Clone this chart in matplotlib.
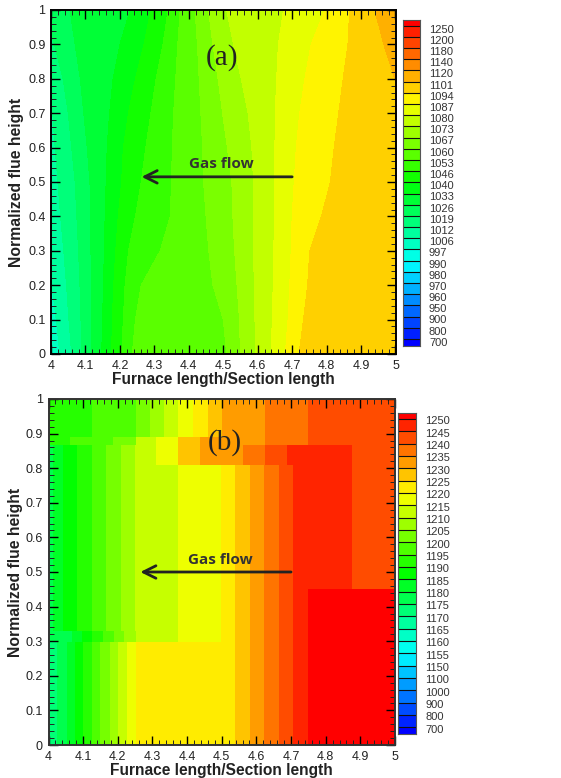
import numpy as np
from matplotlib import pyplot as plt
from matplotlib.colors import ListedColormap, BoundaryNorm, LinearSegmentedColormap
from matplotlib.ticker import MultipleLocator
from matplotlib.transforms import blended_transform_factory

plt.rcParams['font.family'] = ['Liberation Sans', 'DejaVu Sans']

W, H = 561, 778

# legend levels of the two panels
levels_a = [700, 800, 900, 950, 960, 970, 980, 990, 997, 1006, 1012, 1019, 1026, 1033, 1040,
            1046, 1053, 1060, 1067, 1073, 1080, 1087, 1094, 1101, 1120, 1140, 1180, 1200, 1250]
levels_b = [700, 800, 900, 1000, 1100, 1150, 1155, 1160, 1165, 1170, 1175, 1180, 1185, 1190,
            1195, 1200, 1205, 1210, 1215, 1220, 1225, 1230, 1235, 1240, 1245, 1250]

# panel a: x position of each isotherm at each height
heights_a = [0, 0.1, 0.2, 0.3, 0.4, 0.5, 0.6, 0.7, 0.8, 0.9, 1]
iso_temps_a = [997, 1006, 1012, 1019, 1026, 1033, 1040, 1046, 1053, 1060, 1067, 1073, 1080, 1087, 1094, 1101, 1120]
iso_997 = [3.90, 3.88, 3.86, 3.84, 3.82, 3.80, 3.78, 3.76, 3.74, 3.72, 3.70]
iso_1006 = [4.026, 4.015, 4.003, 3.98, 3.96, 3.94, 3.92, 3.90, 3.88, 3.86, 3.84]
iso_1012 = [4.06, 4.052, 4.045, 4.037, 4.028, 4.02, 4.012, 4.005, 3.998, 3.96, 3.94]
iso_1019 = [4.09, 4.087, 4.084, 4.08, 4.075, 4.07, 4.06, 4.05, 4.035, 4.01, 3.98]
iso_1026 = [4.118, 4.118, 4.117, 4.116, 4.115, 4.113, 4.105, 4.095, 4.085, 4.07, 4.055]
iso_1033 = [4.147, 4.15, 4.152, 4.155, 4.157, 4.16, 4.163, 4.17, 4.18, 4.20, 4.23]
iso_1040 = [4.176, 4.178, 4.182, 4.188, 4.195, 4.205, 4.21, 4.225, 4.245, 4.27, 4.29]
iso_1046 = [4.205, 4.21, 4.215, 4.225, 4.245, 4.262, 4.275, 4.29, 4.305, 4.325, 4.34]
iso_1053 = [4.236, 4.245, 4.262, 4.317, 4.346, 4.35, 4.352, 4.356, 4.362, 4.368, 4.375]
iso_1060 = [4.51, 4.50, 4.47, 4.458, 4.45, 4.443, 4.44, 4.435, 4.43, 4.425, 4.418]
iso_1067 = [4.55, 4.547, 4.54, 4.533, 4.528, 4.525, 4.512, 4.498, 4.485, 4.47, 4.457]
iso_1073 = [4.595, 4.592, 4.59, 4.588, 4.588, 4.588, 4.583, 4.572, 4.552, 4.53, 4.51]
iso_1080 = [4.64, 4.642, 4.645, 4.647, 4.648, 4.649, 4.65, 4.651, 4.655, 4.66, 4.675]
iso_1087 = [4.68, 4.688, 4.693, 4.697, 4.70, 4.706, 4.712, 4.722, 4.737, 4.755, 4.795]
iso_1094 = [4.72, 4.733, 4.745, 4.751, 4.785, 4.811, 4.822, 4.835, 4.848, 4.862, 4.867]
iso_1101 = [5.20, 5.18, 5.16, 5.14, 5.12, 5.10, 5.07, 5.03, 4.998, 4.966, 4.94]
iso_1120 = [5.50, 5.50, 5.50, 5.50, 5.50, 5.50, 5.50, 5.50, 5.50, 5.50, 5.50]

# panel b: blocks, one row at a time. top of row, cell edges, temperature of the cell
row0_y = [0, 0.298]
row0_x = [4, 4.024, 4.052, 4.077, 4.10, 4.125, 4.149, 4.178, 4.20, 4.226, 4.252, 4.539, 4.582, 4.623, 4.665, 4.707, 4.748, 5]
row0_t = [1172, 1177, 1182, 1187, 1192, 1197, 1202, 1207, 1212, 1217, 1222, 1227, 1232, 1237, 1242, 1247, 1255]
row1_y = [0.298, 0.33]
row1_x = [4, 4.067, 4.096, 4.125, 4.158, 4.19, 4.219, 4.252, 4.373, 4.498, 4.539, 4.582, 4.623, 4.665, 4.707, 4.748, 5]
row1_t = [1177, 1182, 1187, 1192, 1197, 1202, 1207, 1212, 1217, 1222, 1227, 1232, 1237, 1242, 1247, 1255]
row2_y = [0.33, 0.45]
row2_x = [4, 4.013, 4.041, 4.082, 4.125, 4.166, 4.208, 4.251, 4.373, 4.498, 4.539, 4.582, 4.623, 4.665, 4.707, 4.748, 5]
row2_t = [1177, 1182, 1187, 1192, 1197, 1202, 1207, 1212, 1217, 1222, 1227, 1232, 1237, 1242, 1247, 1255]
row3_y = [0.45, 0.81]
row3_x = [4, 4.013, 4.041, 4.082, 4.125, 4.166, 4.208, 4.251, 4.373, 4.498, 4.539, 4.582, 4.623, 4.665, 4.707, 4.875, 5]
row3_t = [1177, 1182, 1187, 1192, 1197, 1202, 1207, 1212, 1217, 1222, 1227, 1232, 1237, 1242, 1247, 1242]
row4_y = [0.81, 0.867]
row4_x = [4, 4.013, 4.041, 4.082, 4.125, 4.166, 4.208, 4.251, 4.311, 4.373, 4.437, 4.50, 4.562, 4.625, 4.687, 4.875, 5]
row4_t = [1177, 1182, 1187, 1192, 1197, 1202, 1207, 1212, 1217, 1227, 1232, 1232, 1237, 1242, 1247, 1242]
row5_y = [0.867, 0.89]
row5_x = [4, 4.062, 4.125, 4.187, 4.252, 4.311, 4.375, 4.437, 4.50, 4.625, 4.75, 5]
row5_t = [1192, 1197, 1197, 1202, 1212, 1217, 1227, 1232, 1232, 1237, 1242]
row6_y = [0.89, 1]
row6_x = [4, 4.125, 4.252, 4.293, 4.333, 4.375, 4.418, 4.459, 4.50, 4.625, 4.75, 5]
row6_t = [1192, 1197, 1202, 1207, 1212, 1217, 1222, 1227, 1232, 1237, 1242]
rows_b = [(row0_y, row0_x, row0_t), (row1_y, row1_x, row1_t), (row2_y, row2_x, row2_t), (row3_y, row3_x, row3_t),
          (row4_y, row4_x, row4_t), (row5_y, row5_x, row5_t), (row6_y, row6_x, row6_t)]


def rect(x0, ytop, x1, ybot):
    return [x0/W, 1-ybot/H, (x1-x0)/W, (ybot-ytop)/H]


def rainbow(levels):
    n = len(levels)+1
    base = LinearSegmentedColormap.from_list('rb', ['#0000ff', '#00ffff', '#00ff00', '#ffff00', '#ff0000'])
    return ListedColormap([base(i/(n-1)) for i in range(n)])


def style_axes(ax, framecol):
    ax.set_xlim(4, 5)
    ax.set_ylim(0, 1)
    ax.xaxis.set_major_locator(MultipleLocator(0.1))
    ax.xaxis.set_minor_locator(MultipleLocator(0.02))
    ax.yaxis.set_major_locator(MultipleLocator(0.1))
    ax.yaxis.set_minor_locator(MultipleLocator(0.02))
    ax.tick_params(which='major', direction='in', top=True, right=True, length=6.5, width=1.0,
                   labelsize=9, pad=4, color='black', labelcolor='#222222')
    ax.tick_params(which='minor', direction='in', top=True, right=True, length=3.5, width=0.7, color='#222222')
    ax.set_xticks(np.arange(4, 5.01, 0.1))
    ax.set_xticklabels(['4', '4.1', '4.2', '4.3', '4.4', '4.5', '4.6', '4.7', '4.8', '4.9', '5'])
    ax.set_yticks(np.arange(0, 1.01, 0.1))
    ax.set_yticklabels(['0', '0.1', '0.2', '0.3', '0.4', '0.5', '0.6', '0.7', '0.8', '0.9', '1'])
    for s in ax.spines.values():
        s.set_linewidth(1.4)
        s.set_color(framecol)


def legend_bar(pos, levels, cmap, below, above, label_x, label_shift):
    cax = fig.add_axes(rect(*pos))
    n = len(levels)
    edges = [-below]+list(range(n))+[n-1+above]
    vals = np.arange(n+1).reshape(-1, 1)
    cax.pcolormesh([0, 1], edges, vals, cmap=cmap, vmin=-0.5, vmax=n+0.5)
    cax.hlines(range(n), 0, 1, color='#111111', linewidth=0.8)
    cax.set_xlim(0, 1)
    cax.set_ylim(-below, n-1+above)
    cax.set_xticks([])
    cax.set_yticks([])
    for s in cax.spines.values():
        s.set_linewidth(0.8)
        s.set_color('#555555')
    tr = blended_transform_factory(fig.transFigure, cax.transData)
    for i, v in enumerate(levels):
        fig.text(label_x/W, i+label_shift, str(v), transform=tr, ha='left', va='center',
                 fontsize=8, color='#333333')


def gas_flow(ax, x0, x1, y, ty):
    ax.annotate('', xy=(x1, y), xytext=(x0, y),
                arrowprops=dict(arrowstyle='->,head_length=0.9,head_width=0.45', color='#222222', lw=2, shrinkA=0, shrinkB=0))
    ax.text(4.495, ty, 'Gas flow', ha='center', va='center', fontsize=11, fontweight='bold',
            family=['Open Sans', 'DejaVu Sans'], color='#333333')


fig = plt.figure(figsize=(W/100, H/100), dpi=100)

# ---- panel a
cmap_a = rainbow(levels_a)
norm_a = BoundaryNorm([600]+levels_a+[1300], cmap_a.N)
ax1 = fig.add_axes(rect(51, 10, 395.5, 354))
X = np.array([iso_997, iso_1006, iso_1012, iso_1019, iso_1026, iso_1033, iso_1040, iso_1046, iso_1053, iso_1060,
              iso_1067, iso_1073, iso_1080, iso_1087, iso_1094, iso_1101, iso_1120]).T
Y = np.tile(np.array(heights_a).reshape(-1, 1), (1, X.shape[1]))
Z = np.tile(np.array(iso_temps_a, dtype=float), (X.shape[0], 1))
ax1.contourf(X, Y, Z, levels=[990]+iso_temps_a[0:], cmap=cmap_a, norm=norm_a)
style_axes(ax1, 'black')
ax1.set_xlabel('Furnace length/Section length', fontsize=11.2, fontweight='bold', labelpad=0.5, color='#222222')
ax1.set_ylabel('Normalized flue height', fontsize=11.3, fontweight='bold', labelpad=3, color='#222222')
ax1.text(4.495, 0.863, '(a)', ha='center', va='center', fontsize=21, family=['Liberation Serif'], color='#222222')
gas_flow(ax1, 4.70, 4.263, 0.515, 0.553)
legend_bar((403, 20, 420, 346), levels_a, cmap_a, 0.63, 0.51, 429, -0.35)

# ---- panel b
cmap_b = rainbow(levels_b)
norm_b = BoundaryNorm([600]+levels_b+[1300], cmap_b.N)
ax2 = fig.add_axes(rect(48.5, 399, 395, 745))
for row_y, row_x, row_t in rows_b:
    ax2.pcolormesh(row_x, row_y, np.array(row_t).reshape(1, -1), cmap=cmap_b, norm=norm_b)
style_axes(ax2, '#333333')
ax2.set_xlabel('Furnace length/Section length', fontsize=11.2, fontweight='bold', labelpad=0.5, color='#222222')
ax2.set_ylabel('Normalized flue height', fontsize=11.3, fontweight='bold', labelpad=2, color='#222222')
ax2.text(4.51, 0.875, '(b)', ha='center', va='center', fontsize=21, family=['Liberation Serif'], color='#222222')
gas_flow(ax2, 4.70, 4.265, 0.50, 0.535)
legend_bar((398, 412.7, 416, 734), levels_b, cmap_b, 0.54, 0.51, 425, -0.2)

fig.savefig('out.png', dpi=100)
